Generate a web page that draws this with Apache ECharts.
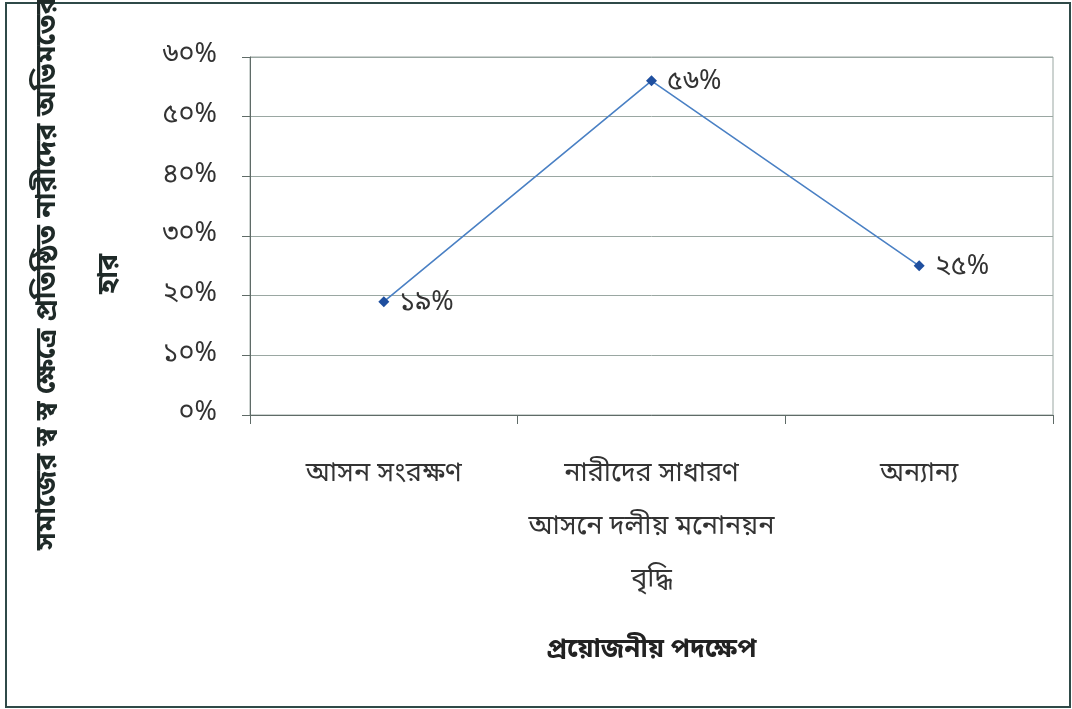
<!DOCTYPE html>
<html>
<head>
<meta charset="utf-8">
<style>
  html, body { margin: 0; padding: 0; background: #fff; }
  #frame { position: absolute; left: 5px; top: 2px; width: 1062px; height: 702px; border: 2px solid #2f4a48; box-sizing: content-box; }
  #chart { position: absolute; left: 0; top: 0; width: 1072px; height: 709px; }
</style>
<script src="https://cdn.jsdelivr.net/npm/echarts@6/dist/echarts.min.js"></script>
</head>
<body>
<div id="frame"></div>
<div id="chart"></div>
<script>
// প্রয়োজনীয় পদক্ষেপ অনুযায়ী অভিমতের হার
const categories = [
  'আসন সংরক্ষণ',
  'নারীদের সাধারণ\nআসনে দলীয় মনোনয়ন\nবৃদ্ধি',
  'অন্যান্য'
];
const values = [19, 56, 25];
const yTickLabels = ['০%', '১০%', '২০%', '৩০%', '৪০%', '৫০%', '৬০%'];
const valueLabels = ['১৯%', '৫৬%', '২৫%'];
const yTitle = 'সমাজের স্ব স্ব ক্ষেত্রে প্রতিষ্ঠিত নারীদের অভিমতের\nহার';
const xTitle = 'প্রয়োজনীয় পদক্ষেপ';

const FONT = '"Noto Sans Bengali", "Noto Sans", "Lohit Bengali", sans-serif';

const chart = echarts.init(document.getElementById('chart'), null, { renderer: 'canvas' });

chart.setOption({
  backgroundColor: 'transparent',
  animation: false,
  grid: {
    left: 250, top: 57, width: 803, height: 358,
    show: true, borderColor: '#9aa7a2', borderWidth: 1
  },
  xAxis: {
    type: 'category',
    data: categories,
    boundaryGap: true,
    axisLine: { lineStyle: { color: '#5f6b67', width: 1 } },
    axisTick: { show: true, length: 9, alignWithLabel: false, lineStyle: { color: '#5f6b67' } },
    axisLabel: {
      margin: 34, fontFamily: FONT, fontSize: 27, color: '#333',
      lineHeight: 53, interval: 0
    },
    name: xTitle,
    nameLocation: 'middle',
    nameGap: 224,
    nameTextStyle: { fontFamily: FONT, fontSize: 26, fontWeight: 'bold', color: '#222' }
  },
  yAxis: {
    type: 'value',
    min: 0, max: 60, interval: 10,
    axisLine: { show: true, lineStyle: { color: '#5f6b67', width: 1 } },
    axisTick: { show: true, length: 8, inside: false, lineStyle: { color: '#5f6b67' } },
    splitLine: { show: true, lineStyle: { color: '#9aa7a2', width: 1 } },
    axisLabel: {
      margin: 33, fontFamily: FONT, fontSize: 27, color: '#333',
      formatter: (v) => yTickLabels[Math.round(v / 10)]
    }
  },
  graphic: [{
    type: 'text',
    x: 81, y: 274,
    rotation: Math.PI / 2,
    style: {
      text: yTitle,
      fontFamily: FONT, fontSize: 28, fontWeight: 'bold', fill: '#1f2a28',
      align: 'center', verticalAlign: 'middle', lineHeight: 62
    }
  }],
  series: [{
    type: 'line',
    data: values,
    symbol: 'diamond',
    symbolSize: 11,
    itemStyle: { color: '#1f4f9f' },
    lineStyle: { color: '#4a80c4', width: 1.6 },
    label: {
      show: true, position: 'right', distance: 10, offset: [0, 3],
      fontFamily: FONT, fontSize: 27, color: '#333',
      formatter: (p) => valueLabels[p.dataIndex]
    }
  }]
});
</script>
</body>
</html>
